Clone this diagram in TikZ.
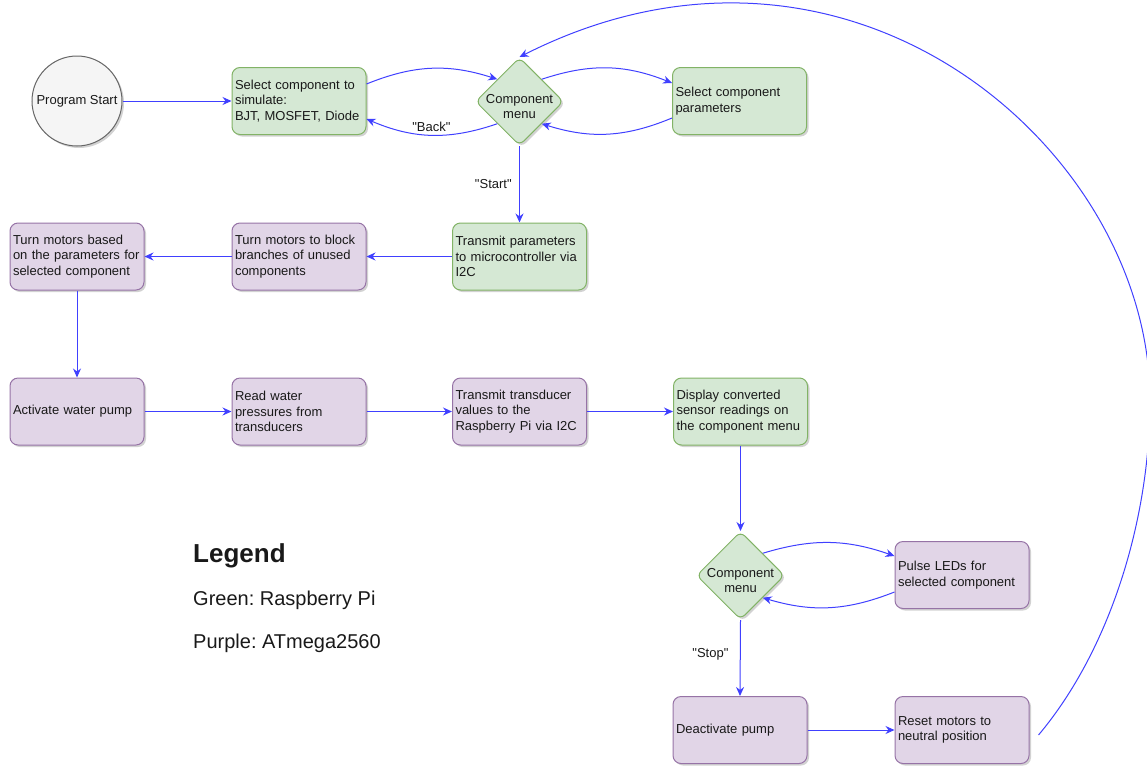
\documentclass[tikz,border=0pt]{standalone}
\usepackage{fontspec}
\setmainfont{Liberation Sans}[Ligatures=TeXOff]
\usetikzlibrary{shapes.geometric,arrows.meta,shadows}
\definecolor{gfill}{HTML}{D5E8D4}
\definecolor{gline}{HTML}{82B366}
\definecolor{pfill}{HTML}{E1D5E7}
\definecolor{pline}{HTML}{9673A6}
\definecolor{cfill}{HTML}{F5F5F5}
\definecolor{cline}{HTML}{666666}
\definecolor{arrowblue}{HTML}{4040FF}
\frenchspacing
\begin{document}
\begin{tikzpicture}[x=1pt,y=-1pt,
  shade/.style={drop shadow={shadow xshift=2pt,shadow yshift=-2pt,opacity=0.25,fill=black!70}},
  boxbase/.style={rectangle,rounded corners=8pt,minimum width=134pt,minimum height=67pt,
    text width=128pt,inner xsep=3pt,inner ysep=2pt,align=left,line width=1pt,
    font=\fontsize{13}{15.6}\selectfont,text=black!90,shade},
  gbox/.style={boxbase,draw=gline,fill=gfill},
  pbox/.style={boxbase,draw=pline,fill=pfill},
  menu/.style={diamond,aspect=1,minimum width=88pt,minimum height=88pt,inner sep=0pt,
    rounded corners=6pt,draw=gline,fill=gfill,line width=1pt,shade,
    label={[align=center,font=\fontsize{13}{15.6}\selectfont,text=black!90,yshift=-5pt]center:Component\\menu}},
  conn/.style={draw=arrowblue,line width=1pt,-{Stealth[length=9pt,width=8pt]}},
  lbl/.style={font=\fontsize{13}{15.6}\selectfont,text=black!90},
  legtext/.style={anchor=base west,inner sep=0pt,text=black!90,font=\fontsize{20}{24}\selectfont}
]
\useasboundingbox (0,0) rectangle (1147,766);
\clip (0,0) rectangle (1147,766);

\node[circle,minimum size=90pt,inner sep=0pt,draw=cline,fill=cfill,line width=1pt,shade,
  font=\fontsize{13}{15.6}\selectfont,text=black!90] (start) at (77,101) {Program Start};
\node[gbox] (sel) at (299,101) {Select component to\\simulate:\\BJT, MOSFET, Diode};
\node[menu] (d1) at (519.5,101.5) {};
\node[gbox] (par) at (739.5,101) {Select component\\parameters};
\node[gbox] (tx) at (519.5,256.5) {Transmit parameters\\to microcontroller via\\I2C};
\node[pbox] (blk) at (299,256.5) {Turn motors to block\\branches of unused\\components};
\node[pbox] (bas) at (77,256.5) {Turn motors based\\on the parameters for\\selected component};
\node[pbox] (act) at (77,411.5) {Activate water pump};
\node[pbox] (rd) at (299,411.5) {Read water\\pressures from\\transducers};
\node[pbox] (tt) at (519.5,411.5) {Transmit transducer\\values to the\\Raspberry Pi via I2C};
\node[gbox] (disp) at (740.5,411.5) {Display converted\\sensor readings on\\the component menu};
\node[menu] (d2) at (740.5,575.5) {};
\node[pbox] (pulse) at (962,575) {Pulse LEDs for\\selected component};
\node[pbox] (deact) at (740,730) {Deactivate pump};
\node[pbox] (reset) at (962,730) {Reset motors to\\neutral position};

\node[legtext,font=\bfseries\fontsize{26}{30}\selectfont] (leg) at (193,562) {Legend};
\node[legtext] (lg1) at (193,605) {Green: Raspberry Pi};
\node[legtext] (lg2) at (193,648) {Purple: ATmega2560};

\draw[conn] (start) -- (sel);
\draw[conn] ([yshift=17pt]sel.east) to[bend left=20] (d1.north west);
\draw[conn] (d1.south west) to[bend left=21] node[midway,above,lbl] {"Back"} ([yshift=-18pt]sel.east);
\draw[conn] (d1.north east) to[bend left=20] ([yshift=18pt]par.west);
\draw[conn] ([yshift=-17pt]par.west) to[bend left=20] (d1.south east);
\draw[conn] (d1.south) -- node[midway,left=4pt,lbl] {"Start"} (tx.north);
\draw[conn] (tx) -- (blk);
\draw[conn] (blk) -- (bas);
\draw[conn] (bas) -- (act);
\draw[conn] (act) -- (rd);
\draw[conn] (rd) -- (tt);
\draw[conn] (tt) -- (disp);
\draw[conn] (disp) -- (d2);
\draw[conn] (d2.north east) to[bend left=18] ([yshift=19pt]pulse.west);
\draw[conn] ([yshift=-17pt]pulse.west) to[bend left=19] (d2.south east);
\draw[conn] (d2.south) -- node[midway,left=8pt,yshift=4pt,lbl] {"Stop"} (deact.north);
\draw[conn] (deact) -- (reset);
\draw[conn] ([xshift=9pt,yshift=-5pt]reset.east) .. controls (1110,650) and (1150,520) .. (1150,400)
  .. controls (1150,150) and (850,-110) .. (d1.north);
\end{tikzpicture}
\end{document}
